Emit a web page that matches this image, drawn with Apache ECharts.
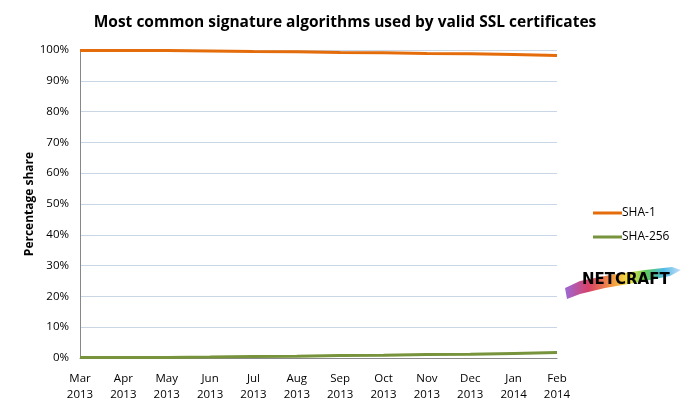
<!DOCTYPE html>
<html><head><meta charset="utf-8">
<script src="https://cdn.jsdelivr.net/npm/echarts@6/dist/echarts.min.js"></script>
<style>html,body{margin:0;padding:0;background:#fff}#c{width:683px;height:410px}</style>
</head><body><div id="c"></div>
<script>
const categories = ['Mar\n2013','Apr\n2013','May\n2013','Jun\n2013','Jul\n2013','Aug\n2013','Sep\n2013','Oct\n2013','Nov\n2013','Dec\n2013','Jan\n2014','Feb\n2014'];
const sha1 = [99.8,99.8,99.8,99.7,99.5,99.4,99.2,99.1,98.9,98.8,98.5,98.2];
const sha256 = [0.2,0.2,0.2,0.3,0.5,0.6,0.8,0.9,1.1,1.2,1.5,1.8];
const font = 'Open Sans, Liberation Sans, sans-serif';
const chart = echarts.init(document.getElementById('c'));
chart.setOption({
  animation:false,
  title:{text:'Most common signature algorithms used by valid SSL certificates',left:340,textAlign:'center',top:10,
    textStyle:{fontFamily:font,fontSize:15.5,fontWeight:'bold',color:'#000'}},
  grid:{left:80,right:126,top:50,bottom:52,containLabel:false},
  legend:{orient:'vertical',left:588,top:202,itemGap:12,itemWidth:29,itemHeight:3,icon:'rect',
    textStyle:{fontFamily:font,fontSize:12,color:'#000',padding:[0,0,0,-5]},
    data:['SHA-1','SHA-256']},
  xAxis:{type:'category',data:categories,boundaryGap:false,
    axisLine:{lineStyle:{color:'#888',width:1}},axisTick:{show:false},
    axisLabel:{fontFamily:font,fontSize:11.5,color:'#000',lineHeight:16,margin:13,interval:0}},
  yAxis:{type:'value',min:0,max:100,interval:10,
    name:'Percentage share',nameLocation:'middle',nameGap:44,nameRotate:90,nameMoveOverlap:false,
    nameTextStyle:{fontFamily:font,fontSize:12,fontWeight:'bold',color:'#000'},
    axisLine:{show:true,lineStyle:{color:'#888'}},axisTick:{show:false},
    axisLabel:{fontFamily:font,fontSize:11.5,color:'#000',formatter:'{value}%',margin:11},
    splitLine:{lineStyle:{color:'#c9d6e6',width:1}}},
  series:[
    {name:'SHA-1',type:'line',data:sha1,symbol:'none',lineStyle:{color:'#e46c0a',width:3},itemStyle:{color:'#e46c0a'}},
    {name:'SHA-256',type:'line',data:sha256,symbol:'none',lineStyle:{color:'#77933c',width:3},itemStyle:{color:'#77933c'}}
  ],
  graphic:[
    {type:'polygon',shape:{points:[[565,288],[580,281],[610,275],[645,270],[672,267],[681,270],[670,276],[640,282],[605,288],[580,294],[567,299]]},
     style:{fill:new echarts.graphic.LinearGradient(0,0,1,0,[
       {offset:0,color:'#8a4fd0'},{offset:0.2,color:'#d02050'},{offset:0.4,color:'#f08020'},
       {offset:0.55,color:'#f0e020'},{offset:0.7,color:'#40c040'},{offset:0.85,color:'#30b0e0'},{offset:1,color:'#c0d8f8'}]),opacity:0.85}},
    {type:'text',left:582,top:273,style:{text:'NETCRAFT',font:'bold 15px DejaVu Sans, sans-serif',fill:'#000'}}
  ]
});
</script></body></html>
